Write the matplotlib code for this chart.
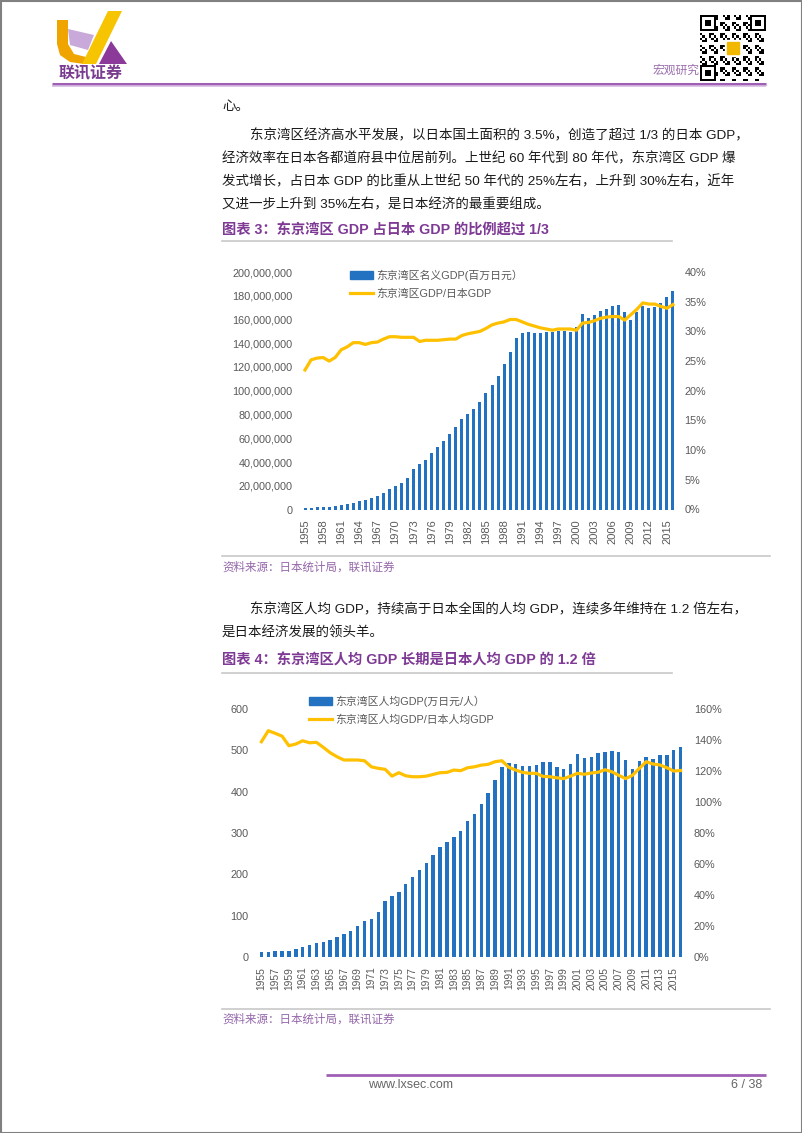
import matplotlib
matplotlib.use('Agg')
import matplotlib.pyplot as plt
import matplotlib.ticker as mticker
from matplotlib.patches import Rectangle, Polygon, Patch
from matplotlib.lines import Line2D
import numpy as np

plt.rcParams['font.family'] = ['Liberation Sans', 'Noto Sans CJK SC', 'DejaVu Sans']

W, H = 802, 1133

years = list(range(1955, 2017))

# chart 3: Tokyo bay nominal GDP (unit: 1e6 million yen) and share of Japan GDP (%)
bay_gdp = [1.2, 1.4, 1.8, 2.0, 2.4, 3.0, 3.8, 4.6, 5.7, 6.8,
           7.7, 9.7, 11.3, 13.9, 17.0, 19.8, 22.1, 26.3, 34.2, 38.4,
           42.0, 47.4, 52.4, 57.7, 63.3, 69.5, 76.0, 80.2, 85.0, 90.9,
           98.5, 104.9, 112.5, 122.4, 133.0, 144.3, 149.0, 149.5, 148.5, 148.6,
           149.7, 149.7, 150.6, 150.3, 149.7, 153.9, 164.4, 161.5, 163.8, 167.2,
           169.1, 171.1, 172.0, 166.3, 159.6, 166.1, 171.4, 169.9, 170.8, 174.1,
           179.2, 184.0]
bay_share = [23.5, 25.2, 25.5, 25.6, 25.0, 25.6, 26.9, 27.4, 28.1, 28.1,
             27.8, 28.1, 28.2, 28.7, 29.1, 29.1, 29.0, 29.0, 29.0, 28.3,
             28.5, 28.5, 28.5, 28.6, 28.7, 28.7, 29.3, 29.6, 29.8, 30.0,
             30.5, 31.1, 31.4, 31.6, 32.0, 32.0, 31.6, 31.2, 30.9, 30.6,
             30.4, 30.2, 30.4, 30.4, 30.4, 30.2, 31.4, 31.5, 31.8, 32.2,
             32.4, 32.5, 32.5, 31.9, 32.8, 33.7, 34.8, 34.6, 34.6, 34.2,
             33.9, 34.5]

# chart 4: per-capita GDP (10k yen / person) and ratio to Japan per-capita GDP (%)
bay_pc = [11.3, 12.9, 14.5, 15.3, 15.3, 18.6, 25.0, 29.0, 33.0, 37.1,
          41.1, 47.6, 54.8, 63.7, 75.0, 87.1, 92.0, 108.0, 136.0, 148.4,
          158.0, 176.7, 192.8, 210.6, 226.7, 246.9, 265.4, 277.5, 289.6, 305.8,
          330.0, 346.0, 369.4, 396.0, 428.4, 459.0, 470.5, 466.5, 462.4, 462.4,
          464.0, 471.5, 471.0, 460.6, 454.0, 467.0, 491.0, 482.5, 483.2, 493.0,
          495.5, 498.5, 495.5, 477.0, 454.0, 475.0, 483.0, 479.0, 488.5, 488.5,
          501.0, 508.0]
pc_ratio = [138.9, 146.0, 144.3, 142.5, 136.3, 137.4, 139.5, 138.2, 138.5, 135.3,
            131.8, 129.2, 127.1, 127.1, 127.1, 126.6, 122.7, 121.7, 121.1, 116.7,
            118.9, 116.9, 116.3, 116.3, 116.7, 117.8, 118.9, 119.1, 120.6, 120.2,
            122.1, 122.7, 123.8, 124.3, 126.0, 126.6, 122.4, 120.6, 119.1, 118.5,
            118.5, 116.5, 116.3, 115.6, 115.1, 116.7, 118.5, 117.9, 118.7, 119.2,
            120.8, 119.5, 117.2, 115.1, 117.2, 121.7, 126.0, 124.5, 123.9, 122.1,
            120.0, 120.3]

BLUE = '#2371C1'
GOLD = '#FFC000'
GREY = '#595959'
PURPLE = '#7F3A95'

fig = plt.figure(figsize=(W / 100, H / 100), dpi=100)
fig.patch.set_facecolor('white')

# page layer in pixel coordinates
page = fig.add_axes([0, 0, 1, 1])
page.set_zorder(-1)
page.axis('off')


def frac(l, t, r, b):
    return [l / W, 1 - b / H, (r - l) / W, (b - t) / H]


# ---- header ----
page.add_patch(Polygon([(57, 20), (68, 20), (68, 44), (74, 54), (86, 57), (84, 64), (70, 62), (60, 55), (57, 44)],
                       closed=True, color='#F0A400', lw=0))
page.add_patch(Polygon([(108, 11), (122, 11), (96, 64), (82, 64)], closed=True, color='#F6C400', lw=0))
page.add_patch(Polygon([(68, 29), (94, 35), (88, 50), (70, 45)], closed=True, color='#C9A9DA', lw=0))
page.add_patch(Polygon([(111, 41), (127, 64), (99, 64)], closed=True, color='#8B3A9A', lw=0))
page.text(91, 74, '联讯证券', fontsize=11.5, fontweight='bold', color='#7A3C8E', ha='center', va='center')

# QR-like block
n = 29
ii, jj = np.meshgrid(np.arange(n), np.arange(n), indexing='ij')
qr = (((ii * 7 + jj * 13 + ii * jj) % 5) < 2).astype(float)
for (r0, c0) in [(0, 0), (0, n - 7), (n - 7, 0)]:
    qr[r0:r0 + 7, c0:c0 + 7] = 1
    qr[r0 + 1:r0 + 6, c0 + 1:c0 + 6] = 0
    qr[r0 + 2:r0 + 5, c0 + 2:c0 + 5] = 1
page.imshow(qr, extent=(700, 766, 81, 15), cmap='gray_r', interpolation='nearest', aspect='auto', zorder=2)
page.add_patch(Rectangle((725, 40), 16, 16, color='white', zorder=3))
page.add_patch(Rectangle((727, 42), 12, 12, color='#F2B800', zorder=4))
page.text(676, 71, '宏观研究', fontsize=8.5, color='#9C6FAE', ha='center', va='center')

page.plot([52, 766], [83.5, 83.5], color='#9E5FB5', lw=2.2, solid_capstyle='butt')
page.plot([52, 766], [86.3, 86.3], color='#D6BDE2', lw=1.2, solid_capstyle='butt')

# ---- body text ----
body = dict(fontsize=9.7, color='#1a1a1a', va='center', ha='left')
page.text(222, 107, '心。', **body)
page.text(250, 136, '东京湾区经济高水平发展，以日本国土面积的 3.5%，创造了超过 1/3 的日本 GDP，', **body)
page.text(222, 159, '经济效率在日本各都道府县中位居前列。上世纪 60 年代到 80 年代，东京湾区 GDP 爆', **body)
page.text(222, 182, '发式增长，占日本 GDP 的比重从上世纪 50 年代的 25%左右，上升到 30%左右，近年', **body)
page.text(222, 205, '又进一步上升到 35%左右，是日本经济的最重要组成。', **body)
page.text(222, 231, '图表 3：东京湾区 GDP 占日本 GDP 的比例超过 1/3', fontsize=10.3, fontweight='bold',
          color=PURPLE, va='center')
page.plot([222, 672], [241, 241], color='#C8C8C8', lw=1.2)

page.plot([222, 770], [556, 556], color='#C8C8C8', lw=1.2)
page.text(222, 568, '资料来源：日本统计局，联讯证券', fontsize=8.3, color='#9466AA', va='center')

page.text(250, 610, '东京湾区人均 GDP，持续高于日本全国的人均 GDP，连续多年维持在 1.2 倍左右，', **body)
page.text(222, 633, '是日本经济发展的领头羊。', **body)
page.text(222, 661, '图表 4：东京湾区人均 GDP 长期是日本人均 GDP 的 1.2 倍', fontsize=10.3, fontweight='bold',
          color=PURPLE, va='center')
page.plot([222, 672], [673, 673], color='#C8C8C8', lw=1.2)

page.plot([222, 770], [1009, 1009], color='#C8C8C8', lw=1.2)
page.text(222, 1020, '资料来源：日本统计局，联讯证券', fontsize=8.3, color='#9466AA', va='center')

# ---- footer ----
page.plot([326, 766], [1074.5, 1074.5], color='#9E5FB5', lw=2.0, solid_capstyle='butt')
page.text(368, 1085, 'www.lxsec.com', fontsize=9, color='#666666', va='center')
page.text(762, 1085, '6 / 38', fontsize=9, color='#666666', va='center', ha='right')

page.add_patch(Rectangle((0.5, 0.5), W - 1, H - 1, fill=False, edgecolor='#808080', lw=1.5))
page.set_xlim(0, W)
page.set_ylim(H, 0)

x = np.arange(len(years))


def style(ax, ax2):
    for a in (ax, ax2):
        for s in a.spines.values():
            s.set_visible(False)
        a.tick_params(length=0, colors=GREY, labelsize=7.8)
    ax.set_xlim(-0.5, len(years) - 0.5)


# ---- chart 3 ----
ax = fig.add_axes(frac(302, 272, 676, 509.5))
ax.bar(x, np.array(bay_gdp) * 1e6, width=0.5, color=BLUE, zorder=2)
ax.set_ylim(0, 200e6)
ax.set_yticks(np.arange(0, 200e6 + 1, 20e6))
ax.yaxis.set_major_formatter(mticker.FuncFormatter(lambda v, p: f'{v:,.0f}'))
ax2 = ax.twinx()
ax2.plot(x, np.array(bay_share) / 100, color=GOLD, lw=2.3, solid_joinstyle='round')
ax2.set_ylim(0, 0.40)
ax2.set_yticks(np.arange(0, 0.401, 0.05))
ax2.yaxis.set_major_formatter(mticker.PercentFormatter(1.0, decimals=0))
style(ax, ax2)
ax.tick_params(axis='y', pad=7)
ax2.tick_params(axis='y', pad=6)
ax.set_xticks(x[::3])
ax.set_xticklabels([str(y) for y in years[::3]], rotation=90, fontsize=8)
ax.tick_params(axis='x', pad=7)
handles = [Patch(color=BLUE, label='东京湾区名义GDP(百万日元）'),
           Line2D([], [], color=GOLD, lw=2.3, label='东京湾区GDP/日本GDP')]
leg = ax.legend(handles=handles, loc='upper left', bbox_to_anchor=(345 / W, 1 - 264 / H),
                bbox_transform=fig.transFigure, frameon=False, fontsize=7.8,
                handlelength=2.1, handletextpad=0.3, labelspacing=0.75, borderpad=0)
for t in leg.get_texts():
    t.set_color(GREY)

# ---- chart 4 ----
bx = fig.add_axes(frac(258, 709, 684, 957))
bx.bar(x, bay_pc, width=0.5, color=BLUE, zorder=2)
bx.set_ylim(0, 600)
bx.set_yticks(np.arange(0, 601, 100))
bx2 = bx.twinx()
bx2.plot(x, np.array(pc_ratio) / 100, color=GOLD, lw=2.3, solid_joinstyle='round')
bx2.set_ylim(0, 1.6)
bx2.set_yticks(np.arange(0, 1.61, 0.2))
bx2.yaxis.set_major_formatter(mticker.PercentFormatter(1.0, decimals=0))
style(bx, bx2)
bx.tick_params(axis='y', pad=7)
bx2.tick_params(axis='y', pad=7)
bx.set_xticks(x[::2])
bx.set_xticklabels([str(y) for y in years[::2]], rotation=90, fontsize=7.4)
bx.tick_params(axis='x', pad=7)
handles = [Patch(color=BLUE, label='东京湾区人均GDP(万日元/人）'),
           Line2D([], [], color=GOLD, lw=2.3, label='东京湾区人均GDP/日本人均GDP')]
leg = bx.legend(handles=handles, loc='upper left', bbox_to_anchor=(304 / W, 1 - 690 / H),
                bbox_transform=fig.transFigure, frameon=False, fontsize=7.8,
                handlelength=2.1, handletextpad=0.3, labelspacing=0.75, borderpad=0)
for t in leg.get_texts():
    t.set_color(GREY)

fig.savefig('out.png', dpi=100, facecolor='white')
